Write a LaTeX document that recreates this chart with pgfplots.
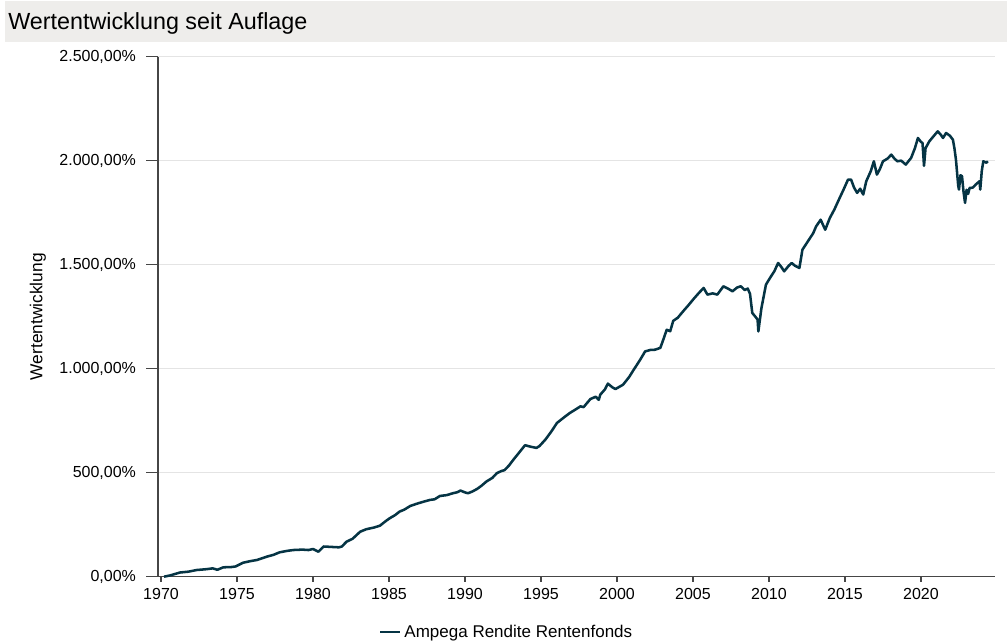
\documentclass[border=0pt]{standalone}
\usepackage{pgfplots}
\pgfplotsset{compat=1.18}
\usepackage{fontspec}
\setmainfont{Liberation Sans}
\definecolor{fundline}{RGB}{5,52,68}
\definecolor{titlebg}{RGB}{238,237,235}
\definecolor{gridc}{RGB}{228,228,228}
\definecolor{axc}{RGB}{70,70,70}
\begin{document}
\begin{tikzpicture}
\useasboundingbox (-118.5pt,-48.2pt) rectangle (636.75pt,432.5pt);
\fill[titlebg] (-114.75pt,401pt) rectangle (636.75pt,431.75pt);
\node[anchor=base west, font=\fontsize{17.5pt}{20pt}\selectfont, inner sep=0pt] at (-112.5pt,410.5pt) {Wertentwicklung seit Auflage};
\begin{axis}[
  at={(0pt,0pt)}, anchor=south west,
  scale only axis, width=627.75pt, height=390pt,
  xmin=1969.8, xmax=2024.87, ymin=0, ymax=2500,
  axis x line*=bottom, axis y line*=left,
  axis line style={axc, line width=0.9pt},
  tick align=outside, major tick length=9pt,
  x tick style={axc, line width=0.9pt, /pgfplots/major tick length=3.75pt},
  y tick style={axc, line width=0.9pt},
  xtick={1970,1975,...,2020},
  ytick={0,500,1000,1500,2000,2500},
  yticklabels={{0,00\%},{500,00\%},{1.000,00\%},{1.500,00\%},{2.000,00\%},{2.500,00\%}},
  /pgf/number format/1000 sep={},
  /pgf/number format/assume math mode=true,
  ticklabel style={font=\fontsize{12pt}{14pt}\selectfont},
  xticklabel style={yshift=4pt},
  yticklabel style={xshift=-4pt},
  ymajorgrids, grid style={gridc, line width=0.8pt},
  ylabel={Wertentwicklung},
  ylabel style={at={(axis description cs:-0.1434,0.5)}, anchor=center, font=\fontsize{13pt}{15pt}\selectfont},
  legend style={at={(axis description cs:0.417,-0.1063)}, anchor=center, draw=none, fill=none, font=\fontsize{12.75pt}{15pt}\selectfont, inner sep=0pt},
  legend image code/.code={\draw[fundline, line width=2pt] (0pt,0pt) -- (15pt,0pt);},
  clip=false,
]
\addplot[fundline, line width=1.9pt, line join=round] coordinates {
(1970.2,0) (1970.6,6) (1971.25,20) (1971.8,24) (1972.35,32) (1973.0,36) (1973.4,40) (1973.7,33)
(1974.1,45) (1974.6,46) (1974.9,49) (1975.4,67) (1975.9,75) (1976.3,80) (1976.95,96) (1977.4,105)
(1977.8,117) (1978.3,124) (1978.7,128) (1979.3,130) (1979.7,128) (1980.0,133) (1980.35,120) (1980.7,145)
(1981.2,143) (1981.7,141) (1981.9,145) (1982.2,168) (1982.6,182) (1983.1,216) (1983.5,228) (1984.0,236)
(1984.4,245) (1984.8,268) (1985.05,281) (1985.4,296) (1985.7,313) (1986.0,322) (1986.4,340) (1986.8,350)
(1987.3,361) (1987.7,369) (1988.0,372) (1988.35,388) (1988.8,392) (1989.2,401) (1989.5,406) (1989.7,414)
(1990.0,405) (1990.2,401) (1990.5,410) (1990.8,422) (1991.1,438) (1991.4,457) (1991.8,475) (1992.1,498)
(1992.4,508) (1992.6,512) (1992.9,535) (1993.2,564) (1993.6,600) (1993.95,632) (1994.3,625) (1994.7,619)
(1994.9,628) (1995.3,660) (1995.7,700) (1996.05,739) (1996.5,765) (1996.9,787) (1997.3,805) (1997.6,819)
(1997.8,815) (1998.25,854) (1998.6,865) (1998.8,850) (1998.9,875) (1999.2,900) (1999.4,928) (1999.7,910)
(1999.9,902) (2000.4,923) (2000.8,960) (2001.1,995) (2001.5,1040) (2001.85,1083) (2002.2,1090) (2002.5,1091)
(2002.85,1100) (2003.0,1130) (2003.27,1187) (2003.5,1180) (2003.7,1230) (2004.0,1245) (2004.4,1280) (2004.7,1305)
(2005.05,1336) (2005.4,1365) (2005.7,1388) (2005.95,1356) (2006.3,1362) (2006.6,1356) (2007.0,1396) (2007.3,1385)
(2007.6,1372) (2007.9,1390) (2008.15,1396) (2008.4,1378) (2008.6,1385) (2008.75,1360) (2008.9,1268) (2009.1,1250)
(2009.25,1236) (2009.3,1179) (2009.5,1290) (2009.8,1404) (2010.1,1440) (2010.35,1468) (2010.6,1508) (2010.8,1490)
(2011.0,1468) (2011.3,1495) (2011.5,1508) (2011.7,1495) (2012.0,1484) (2012.2,1572) (2012.45,1600) (2012.7,1628)
(2012.9,1650) (2013.1,1684) (2013.4,1716) (2013.7,1668) (2014.0,1724) (2014.3,1765) (2014.6,1813) (2014.9,1860)
(2015.2,1909) (2015.4,1909) (2015.6,1870) (2015.8,1845) (2016.0,1865) (2016.2,1837) (2016.4,1901) (2016.7,1950)
(2016.9,1997) (2017.1,1933) (2017.3,1960) (2017.5,1997) (2017.8,2010) (2018.05,2029) (2018.25,2010) (2018.45,1997)
(2018.7,2000) (2019.0,1981) (2019.35,2013) (2019.6,2060) (2019.8,2109) (2020.0,2090) (2020.1,2085) (2020.2,1975)
(2020.3,2060) (2020.55,2093) (2020.8,2115) (2021.1,2141) (2021.3,2125) (2021.45,2109) (2021.65,2133) (2021.9,2120)
(2022.1,2101) (2022.2,2060) (2022.3,2005) (2022.45,1880) (2022.5,1861) (2022.6,1930) (2022.7,1925) (2022.8,1850)
(2022.9,1797) (2023.0,1860) (2023.1,1840) (2023.2,1869) (2023.4,1870) (2023.6,1885) (2023.85,1901) (2023.9,1861)
(2024.0,1950) (2024.1,1997) (2024.3,1990) (2024.4,1997)
};
\addlegendentry{Ampega Rendite Rentenfonds}
\end{axis}
\end{tikzpicture}
\end{document}
